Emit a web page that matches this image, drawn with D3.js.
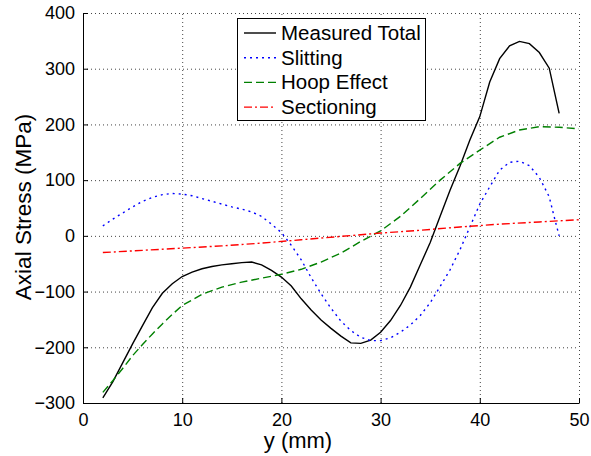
<!DOCTYPE html>
<html>
<head>
<meta charset="utf-8">
<script src="https://cdnjs.cloudflare.com/ajax/libs/d3/7.8.5/d3.min.js"></script>
<style>
  body { margin: 0; background: #fff; }
  svg { font-family: "Liberation Sans", Arial, Helvetica, sans-serif; }
  .grid line { stroke: #444; stroke-dasharray: 1,3; }
</style>
</head>
<body>
<div id="chart"></div>
<script>
// values (y in mm, stress in MPa)
var totalX = [2,3,4,5,6,7,8,9,10,11,12,13,14,15,16,17,18,19,20,21,22,23,24,25,26,27,28,29,30,31,32,33,34,35,36,37,38,39,40,41,42,43,44,45,46,47,48];
var totalY = [-291,-262,-228,-194,-161,-129,-103,-86,-73,-65,-59,-55,-52,-50,-48,-47,-52,-62,-74,-90,-113,-133,-151,-166,-180,-192,-193,-187,-173,-152,-125,-92,-52,-12,35,82,125,172,214,276,318,341,349,345,329,301,220];

var slitX = [2,3,4,5,6,7,8,9,10,11,12,13,14,15,16,17,18,19,20,21,22,23,24,25,26,27,28,29,30,31,32,33,34,35,36,37,38,39,40,41,42,43,44,45,46,47,47.5,48];
var slitY = [18,30,41,52,62,69,74,76,75,72,67,62,57,52,48,43,35,21,6,-17,-43,-75,-104,-130,-153,-170,-182,-188,-188,-183,-173,-160,-143,-120,-91,-61,-25,16,57,88,118,132,134,126,105,70,34,0];

var hoopX = [2,3,4,5,6,7,8,9,10,12,14,16,18,20,22,24,26,28,30,32,34,36,38,40,42,44,46,48,50];
var hoopY = [-281,-260,-238,-215,-195,-176,-158,-141,-125,-105,-92,-83,-76,-69,-60,-47,-31,-10,9,35,67,100,130,154,177,190,196,195,192];

var sectX = [2,6,10,14,18,22,26,30,34,38,42,46,50];
var sectY = [-30,-26,-22,-18,-13,-7,-1,5,10,16,21,25,29];

var names = ['Measured Total', 'Slitting', 'Hoop Effect', 'Sectioning'];
var colors = ['#000000', '#0000ff', '#008000', '#ff0000'];
var dashes = ['none', '2,4', '8,4', '8,3,2,3'];

var xTicks = [0,10,20,30,40,50];
var yTicks = [-300,-200,-100,0,100,200,300,400];

var width = 591, height = 456,
  margin = {top: 13, right: 12, bottom: 53, left: 83};

var svg = d3.select('#chart').append('svg')
  .attr('width', width)
  .attr('height', height);

var x = d3.scaleLinear().domain([0, 50]).range([margin.left, width - margin.right]);
var y = d3.scaleLinear().domain([-300, 400]).range([height - margin.bottom, margin.top]);

// dotted grid
var grid = svg.append('g').attr('class', 'grid');
grid.selectAll('.gx')
  .data(xTicks.filter(function (d) { return d > 0; })).enter()
  .append('line')
  .attr('x1', function (d) { return x(d) + 0.5; })
  .attr('x2', function (d) { return x(d) + 0.5; })
  .attr('y1', y(-300))
  .attr('y2', y(400));
grid.selectAll('.gy')
  .data(yTicks.filter(function (d) { return d > -300; })).enter()
  .append('line')
  .attr('x1', x(0))
  .attr('x2', x(50))
  .attr('y1', function (d) { return y(d) + 0.5; })
  .attr('y2', function (d) { return y(d) + 0.5; });

// axes with inward ticks
var xAxis = svg.append('g')
  .attr('transform', 'translate(0,' + y(-300) + ')')
  .call(d3.axisBottom(x).tickValues(xTicks).tickSizeInner(-5).tickSizeOuter(0).tickPadding(10));
var yAxis = svg.append('g')
  .attr('transform', 'translate(' + x(0) + ',0)')
  .call(d3.axisLeft(y).tickValues(yTicks).tickSizeInner(-5).tickSizeOuter(0).tickPadding(8));

svg.selectAll('.tick text')
  .attr('font-size', 18)
  .attr('font-family', '"Liberation Sans", Arial, sans-serif')
  .attr('fill', '#000');
svg.selectAll('.domain, .tick line').attr('stroke', '#000');

// series
var series = [
  {name: names[0], xs: totalX, ys: totalY},
  {name: names[1], xs: slitX, ys: slitY},
  {name: names[2], xs: hoopX, ys: hoopY},
  {name: names[3], xs: sectX, ys: sectY}
];

var line = d3.line()
  .x(function (d) { return x(d[0]); })
  .y(function (d) { return y(d[1]); });

series.forEach(function (s, i) {
  svg.append('path')
    .datum(d3.zip(s.xs, s.ys))
    .attr('d', line)
    .attr('fill', 'none')
    .attr('stroke', colors[i])
    .attr('stroke-width', 1.4)
    .attr('stroke-dasharray', dashes[i]);
});

// legend
var legend = svg.append('g');
legend.append('rect')
  .attr('x', 237.5)
  .attr('y', 18.5)
  .attr('width', 188)
  .attr('height', 102)
  .attr('fill', '#fff')
  .attr('stroke', '#000');

var rows = legend.selectAll('.row')
  .data(series).enter()
  .append('g')
  .attr('transform', function (d, i) { return 'translate(0,' + (33 + i * 24.7) + ')'; });
rows.append('line')
  .attr('x1', 244)
  .attr('x2', 276)
  .attr('stroke', function (d, i) { return colors[i]; })
  .attr('stroke-width', 1.4)
  .attr('stroke-dasharray', function (d, i) { return dashes[i]; });
rows.append('text')
  .attr('x', 281)
  .attr('y', 7)
  .attr('font-size', 20.5)
  .text(function (d) { return d.name; });

// axis labels
svg.append('text')
  .attr('x', 298)
  .attr('y', 448)
  .attr('text-anchor', 'middle')
  .attr('font-size', 22)
  .text('y (mm)');
svg.append('text')
  .attr('transform', 'translate(31,207) rotate(-90)')
  .attr('text-anchor', 'middle')
  .attr('font-size', 22.5)
  .text('Axial Stress (MPa)');
</script>
</body>
</html>
